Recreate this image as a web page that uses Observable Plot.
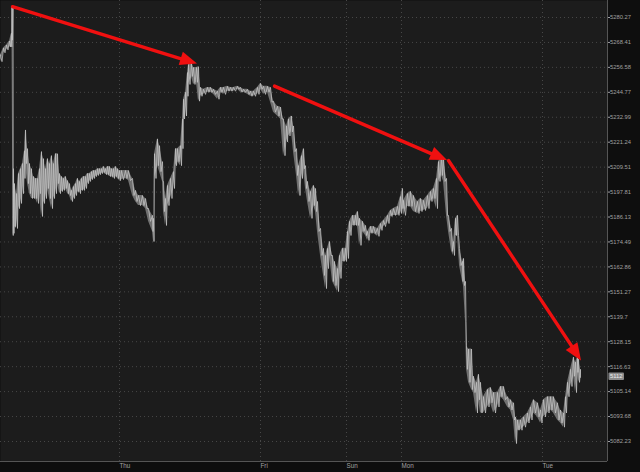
<!DOCTYPE html>
<html>
<head>
<meta charset="utf-8">
<script src="https://cdn.jsdelivr.net/npm/d3@7"></script>
<script src="https://cdn.jsdelivr.net/npm/@observablehq/plot@0.6"></script>
<style>
  html, body { margin: 0; padding: 0; background: #0e0e0e; }
  #chart svg { display: block; }
</style>
</head>
<body>
<div id="chart"></div>
<script>
// ---- data (bar index, high, low) ----
const times = [0,3,6,9,11,11.5,12.5,13,14,16,18,20,22,24,25,27,29,31,33,35,37,39,41,43,45,47,49,51,53,55,57,59,61,63,65,67,69,71,73,75,77,79,81,83,85,87,89,91,93,95,97,99,101,103,105,107,109,111,113,115,117,119,121,125,128,132,135,138,142,145,148,152,153,154,157,159,162,163,165,167,170,173,175,177,180,182,183,185,187,188,191,193,196,198,200,203,207,210,213,217,220,223,227,230,233,237,240,243,247,250,253,257,260,263,267,270,273,277,280,283,286,288,291,293,296,298,301,303,305,307,310,313,315,317,320,323,325,327,329,332,334,337,339,342,345,347,349,352,355,357,359,362,365,367,370,373,377,380,383,387,390,393,397,400,402,403,407,410,413,417,420,423,427,430,433,436,438,441,443,446,448,451,453,455,457,459,462,463,465,466,468,471,473,476,478,480,483,487,490,493,497,500,503,507,510,513,515,517,520,523,527,530,533,537,540,543,547,550,553,557,560,563,565,567,570,573,575,577,578,580];
const highs = [5262.5,5265.8,5267.2,5269.1,5272.8,5285.4,5285.4,5208.8,5201.8,5197.1,5206.5,5208.8,5211.2,5217.2,5227.0,5218.2,5211.2,5208.8,5205.1,5204.2,5204.2,5208.8,5216.8,5213.5,5208.8,5213.5,5211.2,5214.9,5211.2,5215.8,5215.8,5206.5,5205.1,5204.2,5205.1,5203.2,5201.8,5198.6,5200.4,5201.8,5204.2,5202.8,5204.2,5205.1,5205.1,5206.5,5206.5,5207.4,5207.9,5207.9,5208.8,5208.8,5208.8,5209.8,5208.8,5209.8,5209.8,5208.8,5208.8,5209.8,5208.8,5207.9,5207.9,5207.9,5207.9,5204.2,5198.6,5196.2,5196.2,5194.8,5190.1,5186.9,5185.5,5215.8,5222.8,5219.6,5212.1,5202.8,5194.8,5200.9,5204.2,5207.4,5218.2,5218.2,5219.6,5232.2,5241.5,5244.8,5254.1,5257.9,5258.8,5256.5,5256.5,5256.9,5247.1,5246.2,5247.1,5247.1,5246.2,5245.3,5247.1,5247.1,5247.6,5247.1,5247.1,5247.6,5247.1,5246.2,5246.2,5245.3,5245.3,5247.1,5249.0,5247.6,5247.6,5247.1,5240.6,5238.2,5237.8,5232.2,5228.9,5232.2,5233.6,5228.9,5218.2,5210.2,5214.9,5218.2,5210.2,5202.8,5198.1,5200.9,5199.5,5193.4,5180.8,5171.5,5168.2,5171.5,5174.7,5168.2,5165.4,5162.1,5168.2,5171.5,5171.5,5179.4,5184.1,5186.9,5186.9,5188.7,5185.5,5184.1,5182.2,5179.4,5181.7,5181.7,5180.8,5183.1,5184.5,5186.9,5189.2,5190.1,5191.1,5195.7,5199.5,5193.9,5197.1,5198.1,5196.2,5193.4,5194.8,5193.9,5196.2,5198.1,5199.5,5204.2,5212.1,5214.9,5213.5,5204.2,5186.9,5180.8,5174.7,5185.5,5186.9,5171.5,5165.4,5166.8,5156.1,5126.2,5124.8,5124.8,5112.2,5109.4,5113.1,5109.4,5102.8,5106.1,5107.0,5104.7,5104.7,5107.5,5107.5,5102.8,5101.4,5100.0,5093.5,5092.1,5092.1,5093.5,5095.3,5098.1,5101.4,5100.0,5096.7,5101.4,5102.8,5102.8,5102.8,5100.0,5096.7,5095.3,5102.8,5109.4,5115.4,5121.0,5118.7,5121.0,5120.1,5115.4];
const lows = [5259.3,5263.5,5264.9,5266.3,5266.3,5269.5,5177.5,5178.5,5181.7,5180.8,5190.1,5192.5,5197.1,5204.2,5211.2,5201.8,5197.1,5194.8,5194.8,5194.8,5192.5,5197.1,5186.4,5192.5,5194.8,5199.5,5194.8,5190.1,5194.8,5197.1,5201.8,5197.1,5198.1,5198.6,5199.5,5197.1,5196.2,5193.4,5194.8,5196.2,5198.1,5197.1,5198.6,5198.6,5199.5,5201.8,5202.8,5203.7,5204.2,5205.1,5205.6,5206.0,5206.5,5207.0,5206.0,5206.0,5205.1,5205.1,5204.2,5205.1,5204.2,5203.2,5203.7,5204.2,5203.2,5196.2,5193.4,5191.5,5191.5,5190.1,5184.1,5179.4,5174.7,5204.2,5210.2,5207.4,5202.8,5188.7,5182.2,5191.5,5194.8,5199.5,5210.2,5212.1,5210.2,5218.2,5232.2,5233.6,5242.9,5248.5,5252.3,5248.5,5249.5,5240.6,5242.9,5243.8,5244.8,5244.8,5243.8,5241.5,5244.8,5243.8,5245.3,5245.3,5245.3,5246.2,5244.8,5244.8,5243.8,5242.9,5242.9,5243.8,5246.2,5243.8,5244.8,5240.1,5235.4,5233.6,5232.2,5214.9,5221.4,5224.2,5226.1,5216.8,5205.6,5196.2,5204.2,5208.8,5199.5,5193.4,5185.5,5191.5,5188.7,5179.4,5168.2,5158.9,5152.8,5162.1,5168.2,5156.1,5154.2,5151.4,5157.5,5165.4,5165.4,5166.8,5177.5,5182.2,5182.2,5182.2,5172.9,5179.4,5177.5,5175.2,5178.5,5178.5,5177.1,5179.9,5181.7,5183.1,5186.4,5186.9,5186.9,5187.8,5190.1,5186.9,5191.1,5191.1,5188.7,5187.8,5188.7,5189.2,5190.1,5193.4,5194.8,5190.1,5202.8,5205.6,5202.8,5186.9,5179.4,5170.1,5168.2,5177.5,5177.5,5163.5,5156.1,5154.2,5137.4,5115.4,5109.4,5106.1,5104.7,5095.3,5101.4,5095.3,5095.3,5098.1,5100.0,5095.3,5098.1,5102.8,5101.4,5098.1,5096.7,5092.1,5081.3,5087.4,5087.4,5088.8,5090.7,5092.1,5095.3,5093.5,5090.7,5093.5,5095.3,5096.7,5095.3,5092.1,5090.7,5088.8,5095.3,5102.8,5107.5,5112.2,5104.7,5114.0,5109.4,5111.7];

// ---- axis ticks ----
const yTickValues = [5280.27,5268.41,5256.58,5244.77,5232.99,5221.24,5209.51,5197.81,5186.13,5174.49,5162.86,5151.27,5139.7,5128.15,5116.63,5105.14,5093.68,5082.23];
const dayTicks = [119, 260, 346, 401, 542];
const dayLabels = ["Thu", "Fri", "Sun", "Mon", "Tue"];
const xDomain = [0, 607];
const yDomain = [5073.07, 5288.37];

// ---- red arrows (from / to, in bar index and price) ----
const arrowFromT = [12, 274, 448];
const arrowFromP = [5285.4, 5247.7, 5212.6];
const arrowToT = [197, 447, 581];
const arrowToP = [5258.2, 5212.6, 5119.3];

// ---- last price tag ----
const lastPrice = 5112;
const lastLabel = "5112";

// ---- build tables ----
const rows = times.map((t, i) => ({t, hi: highs[i], lo: lows[i]}));
const zig = [];
rows.forEach((r, i) => {
  const next = rows[i + 1];
  zig.push({t: r.t, p: r.hi});
  zig.push({t: next ? (r.t + next.t) / 2 : r.t, p: r.lo});
});
const arrows = arrowFromT.map((t, i) => ({x1: t, y1: arrowFromP[i], x2: arrowToT[i], y2: arrowToP[i]}));
const dayMap = new Map(dayTicks.map((d, i) => [d, dayLabels[i]]));

const chart = Plot.plot({
  width: 640,
  height: 472,
  marginLeft: 0,
  marginRight: 33,
  marginTop: 0,
  marginBottom: 11,
  x: {domain: xDomain, axis: null},
  y: {type: "log", domain: yDomain, axis: null},
  style: {background: "#0e0e0e", color: "#a0a0a0", fontFamily: "'Liberation Sans', Arial, sans-serif"},
  marks: [
    Plot.frame({fill: "#1c1c1c", stroke: null}),
    Plot.gridY(yTickValues, {stroke: "#474747", strokeOpacity: 1, strokeDasharray: "1,3"}),
    Plot.gridX(dayTicks, {stroke: "#474747", strokeOpacity: 1, strokeDasharray: "1,3"}),
    Plot.ruleX([xDomain[1]], {stroke: "#555"}),
    Plot.ruleY([yDomain[0]], {stroke: "#555"}),
    Plot.axisY(yTickValues, {anchor: "right", tickSize: 2, tickPadding: 0.5, tickFormat: d => String(d), fontSize: 5.8}),
    Plot.axisX(dayTicks, {anchor: "bottom", tickSize: 0, tickPadding: 2, textAnchor: "start", tickFormat: d => dayMap.get(d), fontSize: 6.3}),
    Plot.areaY(rows, {x: "t", y1: "lo", y2: "hi", fill: "#707070", curve: "linear"}),
    Plot.line(zig, {x: "t", y: "p", stroke: "#c2c2c2", strokeWidth: 0.8, curve: "linear"}),
    Plot.arrow(arrows, {x1: "x1", y1: "y1", x2: "x2", y2: "y2", stroke: "#f01010", strokeWidth: 3.4, headLength: 0, insetEnd: 12})
  ]
});

document.getElementById("chart").appendChild(chart);

// filled arrow heads and last price tag, placed with Plot's own scales
const xs = chart.scale("x"), ys = chart.scale("y");
const svg = d3.select(chart);
const heads = svg.append("g");
arrows.forEach(a => {
  const ax = xs.apply(a.x1), ay = ys.apply(a.y1);
  const bx = xs.apply(a.x2), by = ys.apply(a.y2);
  const dx = bx - ax, dy = by - ay, len = Math.hypot(dx, dy);
  const ux = dx / len, uy = dy / len;
  const L = 17, W = 14;
  const cx = bx - ux * L, cy = by - uy * L;
  const pts = [[bx, by], [cx - uy * W / 2, cy + ux * W / 2], [cx + uy * W / 2, cy - ux * W / 2]];
  heads.append("polygon").attr("points", pts.map(p => p.join(",")).join(" ")).attr("fill", "#f01010");
});
const py = ys.apply(lastPrice);
const tag = svg.append("g");
tag.append("rect").attr("x", xs.apply(xDomain[1]) + 1.5).attr("y", py - 3.8).attr("width", 15.5).attr("height", 7.6).attr("rx", 1).attr("fill", "#8a8a8a");
tag.append("text").attr("x", xs.apply(xDomain[1]) + 9.2).attr("y", py).attr("dy", "0.35em").attr("text-anchor", "middle")
  .attr("font-size", 5.8).attr("fill", "#ececec").attr("font-family", "'Liberation Sans', Arial, sans-serif").text(lastLabel);
</script>
</body>
</html>
